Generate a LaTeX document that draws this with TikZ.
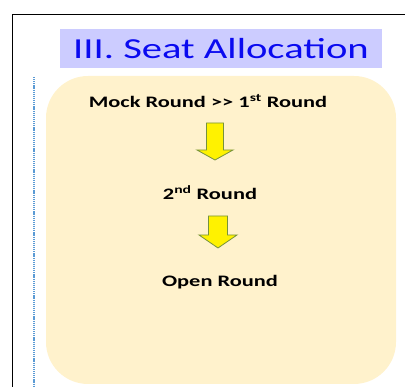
\documentclass[tikz,border=0pt]{standalone}
\usepackage{fontspec}
\setmainfont{Carlito}
\newfontfamily\widefont[FakeStretch=1.4]{Carlito}
\usepackage{xcolor}
\definecolor{titleblue}{RGB}{204,204,255}
\definecolor{titletext}{RGB}{10,10,240}
\definecolor{cream}{RGB}{255,242,204}
\definecolor{dotblue}{RGB}{91,155,213}
\definecolor{arrowedge}{RGB}{118,146,60}

\begin{document}
\begin{tikzpicture}[x=1pt,y=1pt,line cap=butt]
	\tikzstyle{round}=[font=\widefont\bfseries\fontsize{16}{18}\selectfont,inner sep=0pt];
	\tikzstyle{downarrow}=[draw=arrowedge,fill=yellow,line width=.8pt,line join=miter];
	\useasboundingbox (0,0) rectangle (405,387);
	% frame and side rule
	\draw[line width=1.3pt] (12.5,0) -- (12.5,372.5) -- (405,372.5);
	\draw[dotblue,line width=2.6pt,dash pattern=on 1.2pt off 0.9pt] (34,310) -- (34,0);
	% title
	\node[fill=titleblue,minimum width=322pt,minimum height=39pt,inner sep=0pt,
		text=titletext,font=\widefont\fontsize{29}{31}\selectfont] (title) at (221,338.5) {III. Seat Allocation};
	% panel
	\fill[cream,rounded corners=42pt] (46,3) rectangle (396,311);
	\node[round] (mock) at (208,286) {Mock Round >> 1\textsuperscript{st} Round};
	\node[round] (second) at (210,194) {2\textsuperscript{nd} Round};
	\node[round] (open) at (220,105) {Open Round};
	% block arrows
	\coordinate (arrowA) at (215,227);
	\coordinate (arrowB) at (218,139);
	\draw[downarrow,shift={(arrowA)}] (-8.5,37) -- (8.5,37) -- (8.5,10) -- (18,10) -- (0,0) -- (-18,10) -- (-8.5,10) -- cycle;
	\draw[downarrow,shift={(arrowB)}] (-9.5,32) -- (9.5,32) -- (9.5,13) -- (19,13) -- (0,0) -- (-19,13) -- (-9.5,13) -- cycle;
\end{tikzpicture}
\end{document}
